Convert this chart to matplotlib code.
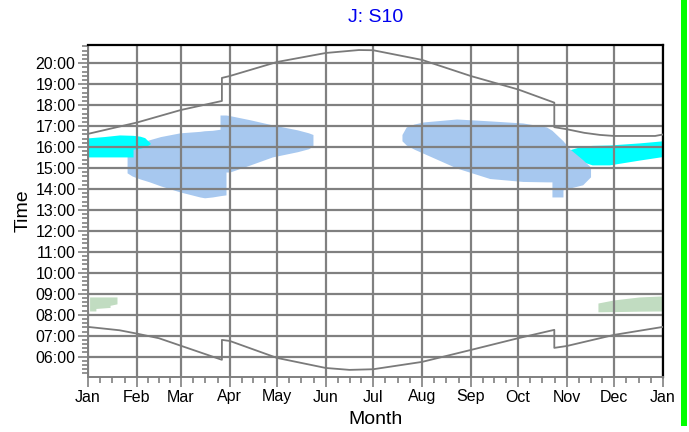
import matplotlib
matplotlib.use('Agg')
import matplotlib.pyplot as plt
from matplotlib.patches import Rectangle

plt.rcParams['font.family'] = ['Liberation Sans', 'DejaVu Sans']

# ---- axis data ----
month_labels = ['Jan', 'Feb', 'Mar', 'Apr', 'May', 'Jun', 'Jul', 'Aug', 'Sep', 'Oct', 'Nov', 'Dec', 'Jan']
month_starts = [0, 31, 59, 90, 120, 151, 181, 212, 243, 273, 304, 334, 365]
hour_ticks = list(range(6, 21))

# ---- sunset / sunrise (day of year, hour) ----
sunset_days = [0, 31, 59, 85, 85, 90, 120, 151, 172, 181, 212, 243, 273, 296, 296, 304, 315, 325, 334, 360, 365]
sunset_hours = [16.63, 17.17, 17.77, 18.2, 19.3, 19.39, 20.06, 20.49, 20.63, 20.62, 20.16, 19.39, 18.75, 18.12, 16.95,
                16.85, 16.68, 16.58, 16.53, 16.53, 16.6]
sunrise_days = [0, 10, 20, 31, 45, 59, 85, 85, 90, 120, 151, 166, 181, 212, 243, 273, 296, 296, 304, 334, 365]
sunrise_hours = [7.42, 7.34, 7.26, 7.1, 6.88, 6.52, 5.85, 6.8, 6.75, 5.94, 5.46, 5.37, 5.4, 5.75, 6.32, 6.88, 7.28,
                 6.42, 6.51, 7.04, 7.42]

# ---- shadow areas (day of year, lower hour, upper hour) ----
blue_a_days = [24.8, 28, 33, 39, 46, 58.4, 71, 74, 79, 83.8, 83.8, 87.6, 87.6, 90, 103, 117, 133, 140, 142.8]
blue_a_upper = [15.6, 16.0, 16.2, 16.35, 16.5, 16.68, 16.75, 16.78, 16.8, 16.85, 17.53, 17.53, 17.53, 17.5, 17.3,
                17.06, 16.82, 16.68, 16.6]
blue_a_lower = [14.77, 14.62, 14.48, 14.34, 14.15, 13.86, 13.62, 13.58, 13.62, 13.68, 13.68, 13.72, 14.81, 14.81, 15.15,
                15.53, 15.78, 15.92, 16.05]

blue_b_days = [199.3, 202, 207, 213, 234, 255, 276, 291, 294.5, 294.5, 298, 301.5, 301.5, 306, 314, 319]
blue_b_upper = [16.6, 16.96, 17.1, 17.2, 17.34, 17.25, 17.15, 16.96, 16.8, 16.8, 16.55, 16.3, 16.3, 15.9, 15.4, 15.05]
blue_b_lower = [16.3, 16.1, 15.9, 15.7, 15.0, 14.5, 14.36, 14.34, 14.34, 13.62, 13.62, 13.62, 13.96, 14.05, 14.2,
                14.58]

cyan_a_days = [0, 10, 20, 28.6, 28.6, 33, 36, 39.4]
cyan_a_upper = [16.44, 16.5, 16.58, 16.56, 16.56, 16.52, 16.45, 16.2]
cyan_a_lower = [15.53, 15.53, 15.53, 15.53, 15.9, 15.95, 16.0, 16.15]

cyan_b_days = [305, 314, 320, 331, 350, 365]
cyan_b_upper = [15.86, 16.05, 16.08, 16.1, 16.2, 16.3]
cyan_b_lower = [15.5, 15.3, 15.15, 15.15, 15.38, 15.55]

green_a_days = [1, 5, 5, 14, 14, 18.4]
green_a_upper = [8.85, 8.85, 8.85, 8.85, 8.85, 8.85]
green_a_lower = [8.18, 8.18, 8.3, 8.35, 8.45, 8.52]

green_b_days = [323.7, 334, 350, 365]
green_b_upper = [8.56, 8.71, 8.85, 8.9]
green_b_lower = [8.14, 8.15, 8.17, 8.18]

W, H = 689, 432
fig = plt.figure(figsize=(W / 100, H / 100), dpi=100)
ax = fig.add_axes([88 / W, 1 - 377 / H, (663 - 88) / W, (377 - 45) / H])

blue = '#a7c8ef'
cyan = '#00ffff'
green = '#c1dcc1'
ax.fill_between(blue_a_days, blue_a_lower, blue_a_upper, color=blue, lw=0, zorder=1)
ax.fill_between(cyan_a_days, cyan_a_lower, cyan_a_upper, color=cyan, lw=0, zorder=1.1)
ax.fill_between(cyan_b_days, cyan_b_lower, cyan_b_upper, color=cyan, lw=0, zorder=1)
ax.fill_between(blue_b_days, blue_b_lower, blue_b_upper, color=blue, lw=0, zorder=1.1)
ax.fill_between(green_a_days, green_a_lower, green_a_upper, color=green, lw=0, zorder=1)
ax.fill_between(green_b_days, green_b_lower, green_b_upper, color=green, lw=0, zorder=1)

ax.plot(sunset_days, sunset_hours, color='#7a7a7a', lw=1.3, zorder=3)
ax.plot(sunrise_days, sunrise_hours, color='#7a7a7a', lw=1.3, zorder=3)

ax.set_xlim(0, 365)
ax.set_ylim(5.03, 20.87)

ax.set_xticks(month_starts)
ax.set_xticklabels(month_labels)
minor_x = []
for a, b in zip(month_starts[:-1], month_starts[1:]):
    for k in (1, 2, 3):
        minor_x.append(a + (b - a) * k / 4)
ax.set_xticks(minor_x, minor=True)

ax.set_yticks(hour_ticks)
ax.set_yticklabels([f'{h:02d}:00' for h in hour_ticks])
minor_y = [5.2 + 0.2 * i for i in range(79)]
ax.set_yticks([m for m in minor_y if 5.03 < m < 20.87 and abs(m - round(m)) > 0.01], minor=True)

ax.grid(True, which='major', color='#808080', lw=1.6)
ax.tick_params(which='major', length=7, width=1.2, color='#808080', labelsize=11.5, pad=2)
ax.tick_params(which='minor', length=4, width=1.2, color='#808080')

for s in ('top', 'right'):
    ax.spines[s].set_color('black')
    ax.spines[s].set_linewidth(1.6)
for s in ('left', 'bottom'):
    ax.spines[s].set_color('#808080')
    ax.spines[s].set_linewidth(1.4)

ax.set_xlabel('Month', fontsize=14, labelpad=5)
ax.set_ylabel('Time', fontsize=14, labelpad=3)

fig.text(375.5 / W, 1 - 17 / H, 'J: S10', color='#0000ee', fontsize=14, ha='center', va='center')

fig.patches.append(Rectangle((681 / W, 6 / H), 6 / W, 1, transform=fig.transFigure, color='#00ff00', lw=0))

fig.savefig('out.png', dpi=100)
